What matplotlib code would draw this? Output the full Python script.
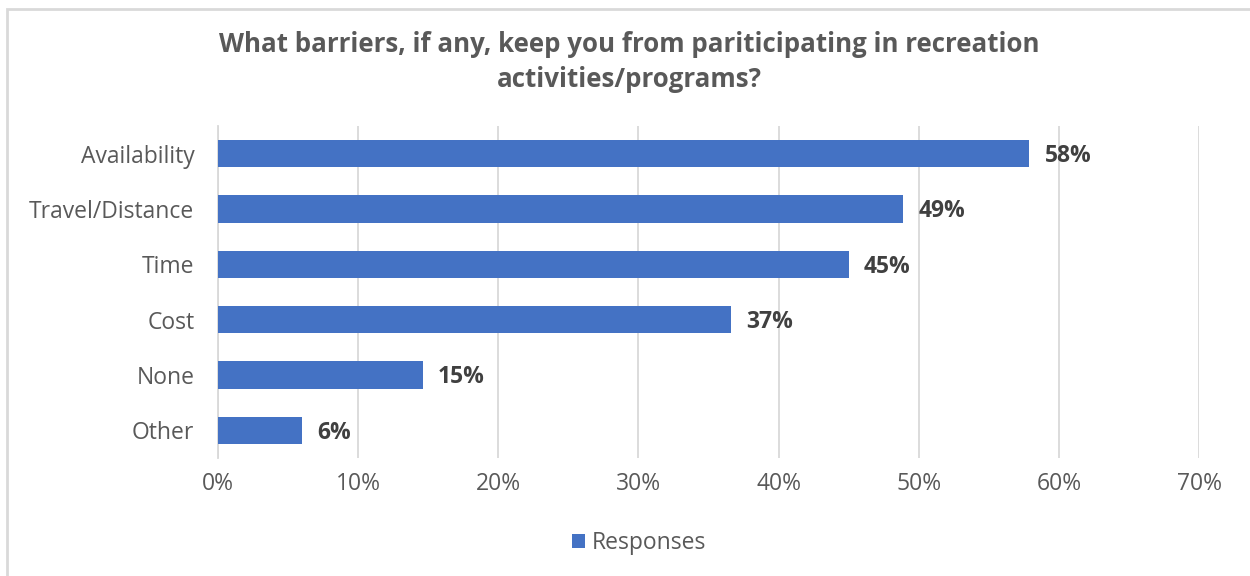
import matplotlib.pyplot as plt
from matplotlib.patches import Rectangle
from matplotlib.ticker import FuncFormatter

plt.rcParams['font.family'] = ['Open Sans', 'DejaVu Sans']

# survey shares (%), top to bottom
categories = ['Availability', 'Travel/Distance', 'Time', 'Cost', 'None', 'Other']
responses = [57.9, 48.9, 45.0, 36.6, 14.6, 6.0]

bar_color = '#4472C4'
text_color = '#595959'
grid_color = '#D9D9D9'

fig = plt.figure(figsize=(12.5, 5.76), dpi=100)
ax = fig.add_axes([218 / 1250, 1 - 458 / 576, (1199 - 218) / 1250, (458 - 126) / 576])

# outer frame of the chart area (only top/left fall inside the canvas)
fig.patches.append(Rectangle((7 / 1250, -0.05), 1.2, 1 - 9 / 576 + 0.05,
                             transform=fig.transFigure, fill=False,
                             edgecolor=grid_color, linewidth=2))

ypos = list(range(len(categories)))
bars = ax.barh(ypos, responses, height=0.49, color=bar_color, label='Responses',
               zorder=3)

for y, v in zip(ypos, responses):
    ax.text(v + 1.1, y + 0.04, f'{v:.0f}%', va='center', ha='left', fontsize=16.5,
            fontweight='bold', color='#404040')

ax.set_xlim(0, 70)
ax.set_ylim(len(categories) - 0.5, -0.5)
ax.set_xticks(range(0, 71, 10))
ax.xaxis.set_major_formatter(FuncFormatter(lambda x, _: f'{x:.0f}%'))
ax.set_yticks(ypos)
ax.set_yticklabels(categories)
ax.tick_params(axis='both', length=0, labelsize=16.5, colors=text_color)
ax.tick_params(axis='x', pad=10)
ax.tick_params(axis='y', pad=17)
ax.grid(axis='x', color=grid_color, linewidth=1.3, zorder=0)
for s in ['top', 'right', 'bottom']:
    ax.spines[s].set_visible(False)
ax.spines['left'].set_color(grid_color)
ax.spines['left'].set_linewidth(1.3)

fig.text(629 / 1250, 1 - 62 / 576,
         'What barriers, if any, keep you from pariticipating in recreation\nactivities/programs?',
         ha='center', va='center', fontsize=18.6, fontweight='bold',
         color=text_color, linespacing=1.4)

fig.legend(handles=[bars], labels=['Responses'], loc='center',
           bbox_to_anchor=(639 / 1250, 1 - 543 / 576), frameon=False,
           fontsize=16.5, labelcolor=text_color, handlelength=0.6,
           handleheight=0.6, handletextpad=0.3)

fig.savefig('out.png', dpi=100, facecolor='white')
